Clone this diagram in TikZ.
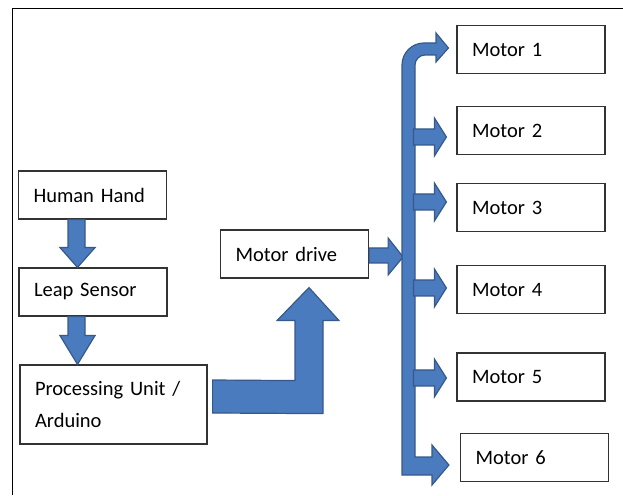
\documentclass[tikz,border=0pt]{standalone}
\usepackage{fontspec}
\setmainfont{Carlito}
\usepackage{tikz}
\usetikzlibrary{calc}

\definecolor{arrowfill}{HTML}{4A7BBF}
\definecolor{arrowedge}{HTML}{36598A}

\tikzset{
  unit/.style={draw=black!80, line width=1.2pt, fill=white, text=black,
    font=\fontsize{20.5}{32}\selectfont, align=left, inner xsep=15pt, inner ysep=0pt,
    text width=118pt, minimum height=48pt},
  blockarrow/.style={fill=arrowfill, draw=arrowedge, line width=1.2pt, line join=miter}
}

\begin{document}
\begin{tikzpicture}[x=1pt, y=1pt]
        \useasboundingbox (0,0) rectangle (623,495);
        % --- Frame ---
        \draw[black, line width=1.6pt] (12.5,0) -- (12.5,486.5) -- (623,486.5);

        % --- Input chain ---
        \node[unit] (hand) at (92.5, 300) {Human Hand};
        \node[unit] (leap) at (93, 203) {Leap Sensor};
        \node[unit, text width=157pt, minimum height=79pt] (proc) at (113.5, 90.5) {Processing Unit /\\Arduino};
        \node[unit] (drive) at (294.5, 241) {Motor drive};

        % --- Motors ---
        \node[unit] (m1) at (531, 445.5) {Motor 1};
        \node[unit] (m2) at (531, 364.5) {Motor 2};
        \node[unit] (m3) at (531, 287.5) {Motor 3};
        \node[unit] (m4) at (531, 205.5) {Motor 4};
        \node[unit] (m5) at (531, 118) {Motor 5};
        \node[unit] (m6) at (534.5, 37.5) {Motor 6};

        % Down arrows
        \fill[blockarrow] ($(hand.south)+(-24.5,0)$) -- ++(0,-28) -- ++(-8,0) -- ($(leap.north)+(-15.5,0)$)
          -- ($(hand.south)+(2.5,-28)$) -- ++(-10,0) -- ($(hand.south)+(-7.5,0)$) -- cycle;
        \fill[blockarrow] ($(leap.south)+(-25,0)$) -- ++(0,-19) -- ++(-8,0) -- ($(proc.north)+(-36,0)$)
          -- ($(leap.south)+(2,-19)$) -- ++(-10,0) -- ($(leap.south)+(-8,0)$) -- cycle;

        % Bent arrow to the motor drive
        \fill[blockarrow] ($(proc.east)+(5,24.5)$) -- ($(drive.south)+(0.5,-102)$) -- ($(drive.south)+(0.5,-42)$)
          -- ($(drive.south)+(-17.5,-42)$) -- ($(drive.south)+(14.5,-9)$) -- ($(drive.south)+(44.5,-42)$)
          -- ($(drive.south)+(28.5,-42)$) -- ($(drive.south)+(28.5,-135)$) -- ($(proc.east)+(5,-8.5)$) -- cycle;

        % Drive to bus
        \fill[blockarrow] ($(drive.east)+(0,6)$) -- ++(19,0) -- ++(0,10) -- ($(drive.east)+(34,-3)$)
          -- ($(drive.east)+(19,-21)$) -- ++(0,12) -- ($(drive.east)+(0,-9)$) -- cycle;

        % --- Bus ---
        \fill[blockarrow] (402,20) -- (402,430) arc[start angle=180, end angle=90, radius=22] -- (436,452)
          -- (436,462) -- ($(m1.west)+(-8,1.5)$) -- (436,433) -- (436,440) -- (425,440)
          arc[start angle=90, end angle=180, radius=10] -- (415,38) -- (432,38) -- (432,50)
          -- ($(m6.west)+(-11,-7.5)$) -- (432,10) -- (432,20) -- cycle;

        % Branches
        \foreach \m/\dy in {m2/-6.5, m3/5.5, m4/1.5, m5/-1}
          \fill[blockarrow] ($(\m.west)+(-10,\dy)$) -- ++(-12,19) -- ++(0,-11) -- ++(-21,0)
            -- ++(0,-16) -- ++(21,0) -- ++(0,-11) -- cycle;
\end{tikzpicture}
\end{document}
